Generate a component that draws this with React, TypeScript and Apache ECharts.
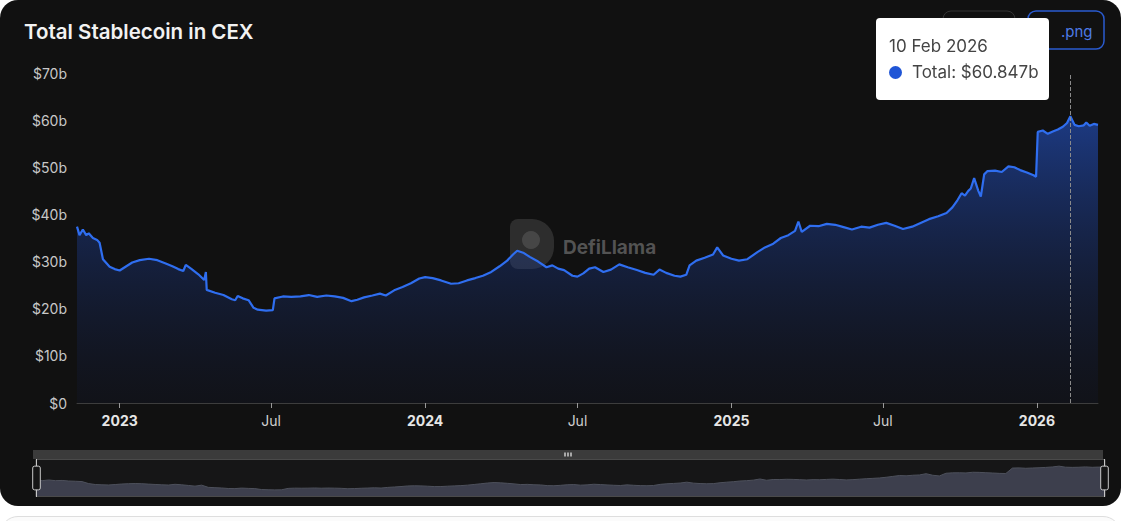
import React, { useEffect, useRef } from "react";
import * as echarts from "echarts";

const chartTitle = "Total Stablecoin in CEX";
const seriesName = "Total";

const dates = [
  "2022-11-11", "2022-11-14", "2022-11-18", "2022-11-22", "2022-11-25", "2022-11-30",
  "2022-12-05", "2022-12-08", "2022-12-12", "2022-12-20", "2022-12-26", "2023-01-01",
  "2023-01-08", "2023-01-16", "2023-01-25", "2023-02-05", "2023-02-15", "2023-02-25",
  "2023-03-05", "2023-03-12", "2023-03-18", "2023-03-21", "2023-03-28", "2023-04-05",
  "2023-04-12", "2023-04-14", "2023-04-15", "2023-04-25", "2023-05-05", "2023-05-15",
  "2023-05-19", "2023-05-22", "2023-05-28", "2023-06-04", "2023-06-10", "2023-06-15",
  "2023-06-25", "2023-07-03", "2023-07-05", "2023-07-15", "2023-07-25", "2023-08-05",
  "2023-08-15", "2023-08-25", "2023-09-05", "2023-09-15", "2023-09-25", "2023-10-05",
  "2023-10-12", "2023-10-20", "2023-10-30", "2023-11-08", "2023-11-15", "2023-11-25",
  "2023-12-05", "2023-12-15", "2023-12-25", "2024-01-01", "2024-01-10", "2024-01-20",
  "2024-02-01", "2024-02-10", "2024-02-20", "2024-03-01", "2024-03-10", "2024-03-20",
  "2024-03-30", "2024-04-08", "2024-04-15", "2024-04-20", "2024-04-28", "2024-05-05",
  "2024-05-15", "2024-05-25", "2024-06-01", "2024-06-08", "2024-06-15", "2024-06-25",
  "2024-07-01", "2024-07-08", "2024-07-15", "2024-07-22", "2024-08-01", "2024-08-10",
  "2024-08-20", "2024-08-30", "2024-09-10", "2024-09-20", "2024-09-30", "2024-10-07",
  "2024-10-15", "2024-10-25", "2024-11-01", "2024-11-08", "2024-11-12", "2024-11-20",
  "2024-11-30", "2024-12-10", "2024-12-15", "2024-12-22", "2025-01-01", "2025-01-10",
  "2025-01-20", "2025-02-01", "2025-02-10", "2025-02-20", "2025-03-01", "2025-03-10",
  "2025-03-18", "2025-03-22", "2025-03-26", "2025-04-05", "2025-04-15", "2025-04-25",
  "2025-05-05", "2025-05-15", "2025-05-25", "2025-06-05", "2025-06-15", "2025-06-25",
  "2025-07-05", "2025-07-15", "2025-07-25", "2025-08-05", "2025-08-15", "2025-08-25",
  "2025-09-05", "2025-09-15", "2025-09-22", "2025-09-28", "2025-10-03", "2025-10-07",
  "2025-10-11", "2025-10-14", "2025-10-18", "2025-10-23", "2025-10-26", "2025-10-30",
  "2025-11-03", "2025-11-12", "2025-11-20", "2025-11-28", "2025-12-05", "2025-12-12",
  "2025-12-20", "2025-12-28", "2025-12-31", "2026-01-02", "2026-01-08", "2026-01-14",
  "2026-01-20", "2026-01-26", "2026-02-01", "2026-02-06", "2026-02-10", "2026-02-15",
  "2026-02-20", "2026-02-26", "2026-03-01", "2026-03-05", "2026-03-10", "2026-03-15",
];

const values = [
  37.4, 35.6, 36.8, 35.6, 36.0, 35.0,
  34.6, 34.0, 30.5, 28.9, 28.4, 28.1,
  28.9, 29.8, 30.3, 30.6, 30.3, 29.6,
  29.0, 28.4, 28.0, 29.3, 28.4, 27.3,
  26.1, 27.8, 24.0, 23.4, 22.9, 22.0,
  21.8, 22.7, 22.2, 21.8, 20.2, 19.8,
  19.6, 19.7, 22.2, 22.6, 22.5, 22.6,
  22.9, 22.5, 22.8, 22.6, 22.3, 21.6,
  21.9, 22.4, 22.8, 23.2, 22.8, 23.9,
  24.6, 25.4, 26.4, 26.7, 26.5, 26.0,
  25.3, 25.4, 26.0, 26.5, 27.0, 27.8,
  29.0, 30.2, 31.5, 32.3, 31.8, 31.0,
  30.0, 28.8, 29.2, 28.5, 28.2, 27.0,
  26.8, 27.5, 28.5, 28.8, 27.8, 28.3,
  29.4, 28.8, 28.2, 27.6, 27.2, 28.3,
  27.6, 27.0, 26.8, 27.2, 29.2, 30.2,
  30.8, 31.5, 33.0, 31.3, 30.6, 30.2,
  30.5, 32.0, 33.0, 33.8, 35.0, 35.6,
  36.5, 38.5, 36.3, 37.6, 37.5, 38.0,
  37.8, 37.3, 36.8, 37.4, 37.2, 37.8,
  38.2, 37.6, 36.9, 37.4, 38.2, 39.0,
  39.6, 40.3, 41.5, 43.0, 44.5, 44.0,
  45.0, 45.5, 47.7, 45.0, 43.8, 48.5,
  49.2, 49.3, 49.0, 50.2, 50.0, 49.4,
  48.9, 48.3, 48.0, 57.5, 57.8, 57.1,
  57.6, 58.0, 58.6, 59.4, 60.847, 59.0,
  58.7, 58.9, 59.5, 58.8, 59.2, 59.0,
];

const yTicks = [0, 10, 20, 30, 40, 50, 60, 70];
const xTickDates = ["2023-01-01", "2023-07-01", "2024-01-01", "2024-07-01", "2025-01-01", "2025-07-01", "2026-01-01"];
const xTickLabels = ["2023", "Jul", "2024", "Jul", "2025", "Jul", "2026"];
const tooltipDate = "2026-02-10";
const buttonLabels = [".csv", ".png"];
const watermarkText = "DefiLlama";

const MONTHS = ["Jan", "Feb", "Mar", "Apr", "May", "Jun", "Jul", "Aug", "Sep", "Oct", "Nov", "Dec"];
const FONT = "Inter, 'Liberation Sans', sans-serif";

export default function App() {
  const ref = useRef<HTMLDivElement>(null);

  useEffect(() => {
    if (!ref.current) return;
    const chart = echarts.init(ref.current, undefined, { renderer: "svg" });
    const ts = (d: string) => new Date(d + "T00:00:00Z").getTime();
    const data = dates.map((d, i) => [ts(d), values[i]]);
    const tickTs = xTickDates.map(ts);

    chart.setOption({
      animation: false,
      backgroundColor: "transparent",
      textStyle: { fontFamily: FONT },
      title: {
        text: chartTitle,
        left: 24,
        top: 21,
        padding: 0,
        textStyle: { color: "#f2f2f2", fontSize: 20.5, fontWeight: 600, fontFamily: FONT },
      },
      grid: { left: 77, right: 23, top: 73, bottom: 506 - 403 },
      xAxis: {
        type: "value",
        min: ts(dates[0]),
        max: ts(dates[dates.length - 1]),
        splitLine: { show: false },
        axisLine: { show: true, lineStyle: { color: "#3d3d3d", width: 1 } },
        axisTick: { show: true, customValues: tickTs, length: 5, lineStyle: { color: "#9a9a9a" } },
        axisLabel: {
          customValues: tickTs,
          margin: 10,
          color: "#cfcfcf",
          fontSize: 14,
          fontFamily: FONT,
          formatter: (v: number) => {
            const k = tickTs.indexOf(v);
            if (k < 0) return "";
            return k % 2 === 0 ? `{b|${xTickLabels[k]}}` : xTickLabels[k];
          },
          rich: { b: { fontWeight: 700, fontSize: 14, color: "#e6e6e6", fontFamily: FONT } },
        },
      },
      yAxis: {
        type: "value",
        min: yTicks[0],
        max: yTicks[yTicks.length - 1],
        interval: 10,
        splitLine: { show: false },
        axisLine: { show: false },
        axisTick: { show: false },
        axisLabel: {
          margin: 10,
          color: "#c8c8c8",
          fontSize: 14,
          fontFamily: FONT,
          formatter: (v: number) => (v === 0 ? "$0" : `$${v}b`),
        },
      },
      tooltip: {
        trigger: "axis",
        alwaysShowContent: true,
        triggerOn: "none",
        position: [876, 18],
        backgroundColor: "#ffffff",
        borderColor: "#ffffff",
        borderWidth: 0,
        padding: [18, 13],
        extraCssText: "box-sizing:border-box;width:173px;height:82px;border-radius:4px;box-shadow:none;",
        axisPointer: { type: "line", lineStyle: { color: "#8a8a8a", type: "dashed", width: 1 } },
        formatter: (params: any) => {
          const p = Array.isArray(params) ? params[0] : params;
          const d = new Date(p.value[0]);
          const label = `${d.getUTCDate()} ${MONTHS[d.getUTCMonth()]} ${d.getUTCFullYear()}`;
          const val = `$${Number(p.value[1]).toFixed(3)}b`;
          return (
            `<div style="font-family:${FONT};font-size:17px;color:#444;line-height:20px;white-space:nowrap">${label}</div>` +
            `<div style="font-family:${FONT};font-size:17px;color:#444;line-height:20px;margin-top:6px;display:flex;align-items:center;white-space:nowrap">` +
            `<span style="display:inline-block;flex:0 0 13px;width:13px;height:13px;border-radius:50%;background:#1f55d6;margin-right:10px"></span>${p.seriesName}: ${val}</div>`
          );
        },
      },
      dataZoom: [
        {
          type: "slider",
          xAxisIndex: 0,
          start: 0,
          end: 100,
          left: 33,
          right: 18,
          top: 459,
          height: 38,
          showDetail: false,
          brushSelect: false,
          backgroundColor: "transparent",
          borderColor: "#4a4a4a",
          fillerColor: "rgba(120,120,130,0.05)",
          dataBackground: {
            lineStyle: { color: "#4c4f5a", width: 1 },
            areaStyle: { color: "#3a3d4a", opacity: 1 },
          },
          selectedDataBackground: {
            lineStyle: { color: "#4c4f5a", width: 1 },
            areaStyle: { color: "#3a3d4a", opacity: 1 },
          },
          handleSize: "100%",
          handleStyle: { color: "#151515", borderColor: "#c8c8c8", borderWidth: 1 },
          moveHandleSize: 9,
          moveHandleStyle: { color: "#3c3c3c", opacity: 1 },
          emphasis: { handleStyle: { borderColor: "#c8c8c8" }, moveHandleStyle: { color: "#3c3c3c" } },
        },
      ],
      graphic: [
        {
          type: "rect",
          shape: { x: 943, y: 11, width: 72, height: 37, r: 8 },
          style: { fill: "transparent", stroke: "#343434", lineWidth: 1 },
          silent: true,
        },
        {
          type: "text",
          x: 990, y: 30,
          style: { text: buttonLabels[0], fill: "#cfcfcf", font: `15px ${FONT}`, textVerticalAlign: "middle" },
          silent: true,
        },
        {
          type: "rect",
          shape: { x: 1028, y: 11, width: 76, height: 38, r: 8 },
          style: { fill: "transparent", stroke: "#2a5bd0", lineWidth: 1.5 },
          silent: true,
        },
        {
          type: "text",
          x: 1061, y: 31,
          style: { text: buttonLabels[1], fill: "#4d7be6", font: `15px ${FONT}`, textVerticalAlign: "middle" },
          silent: true,
        },
        {
          type: "group",
          silent: true,
          z: 100,
          children: [
            {
              type: "rect",
              shape: { x: 33, y: 450, width: 1070, height: 9 },
              style: { fill: "#3b3b3b" },
            },
            { type: "rect", shape: { x: 564, y: 452.5, width: 2, height: 4 }, style: { fill: "#a8a8a8" } },
            { type: "rect", shape: { x: 567, y: 452.5, width: 2, height: 4 }, style: { fill: "#a8a8a8" } },
            { type: "rect", shape: { x: 570, y: 452.5, width: 2, height: 4 }, style: { fill: "#a8a8a8" } },
          ],
        },
        {
          type: "group",
          silent: true,
          z: 0,
          children: [
            {
              type: "rect",
              shape: { x: 510, y: 219, width: 44, height: 50, r: [8, 22, 22, 8] },
              style: { fill: "rgba(255,255,255,0.12)" },
            },
            {
              type: "circle",
              shape: { cx: 531, cy: 240, r: 9 },
              style: { fill: "rgba(255,255,255,0.12)" },
            },
            {
              type: "text",
              x: 563, y: 247,
              style: {
                text: watermarkText,
                fill: "rgba(255,255,255,0.28)",
                font: `700 19px ${FONT}`,
                textVerticalAlign: "middle",
              },
            },
          ],
        },
      ],
      series: [
        {
          name: seriesName,
          type: "line",
          data,
          symbol: "none",
          showSymbol: false,
          smooth: false,
          z: 3,
          lineStyle: { color: "#2f6ef0", width: 2.2 },
          itemStyle: { color: "#1f55d6" },
          emphasis: { disabled: true },
          areaStyle: {
            color: new echarts.graphic.LinearGradient(0, 0, 0, 1, [
              { offset: 0, color: "rgba(38,92,225,0.78)" },
              { offset: 1, color: "rgba(18,26,60,0.25)" },
            ]),
          },
        },
      ],
    });

    const idx = dates.indexOf(tooltipDate);
    chart.dispatchAction({ type: "showTip", seriesIndex: 0, dataIndex: idx });

    return () => chart.dispose();
  }, []);

  return (
    <div style={{ position: "fixed", left: 0, top: 0, width: 1138, height: 521, background: "#ffffff", overflow: "hidden" }}>
      <div
        ref={ref}
        style={{ position: "absolute", left: 0, top: 0, width: 1121, height: 506, background: "#111111", borderRadius: 18 }}
      />
      <div
        style={{
          position: "absolute", left: 0, top: 516, width: 1119, height: 60,
          border: "1px solid #dedede", borderRadius: 18, background: "#fbfbfb",
        }}
      />
    </div>
  );
}
